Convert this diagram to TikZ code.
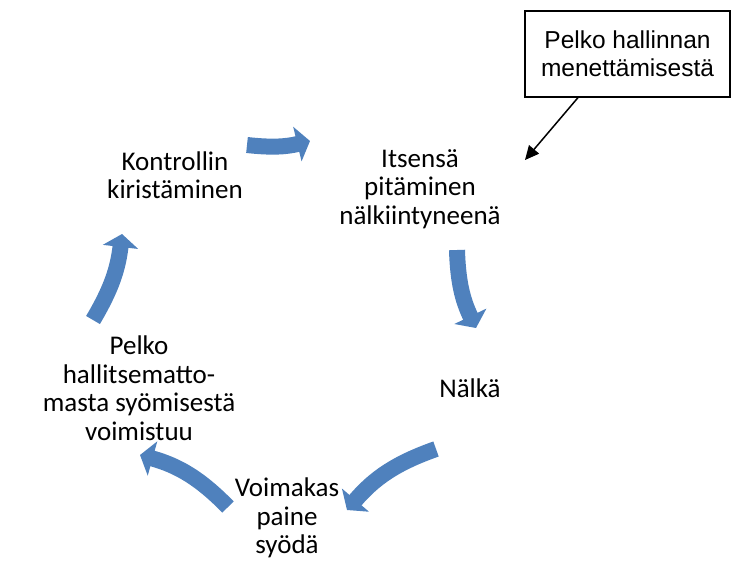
\documentclass[tikz,border=0pt]{standalone}
\usepackage{fontspec}
\setmainfont{Carlito}
\newfontfamily\arialf{Liberation Sans}
\usetikzlibrary{arrows.meta}
\definecolor{blu}{HTML}{4F81BD}
\begin{document}
\begin{tikzpicture}[x=1pt,y=-1pt,
  lbl/.style={align=center,font=\fontsize{27}{28.5}\selectfont,inner sep=0pt},
  cyc/.style={draw=blu,line width=16pt,-{Triangle[width=35pt,length=13pt]}},
  boxst/.style={draw,line width=1.2pt,align=center,font=\arialf\fontsize{24.5}{28}\selectfont,minimum width=205pt,minimum height=86pt,inner sep=0pt}]
\useasboundingbox (0,0) rectangle (731,562);
\node[lbl] (k) at (175,175) {Kontrollin\\kiristäminen};
\node[lbl] (i) at (420,189) {Itsensä\\pitäminen\\nälkiintyneenä};
\node[lbl] (n) at (470,388) {Nälkä};
\node[lbl] (v) at (287,518) {Voimakas\\paine\\syödä};
\node[lbl] (p) at (139,388) {Pelko\\hallitsematto-\\masta syömisestä\\voimistuu};
\node[boxst] (b) at (627.5,54) {Pelko hallinnan\\menettämisestä};
\coordinate (t) at (525,160);
\draw[line width=1.5pt,-{Triangle[width=13pt,length=14pt]}] ([xshift=-49.5pt]b.south) -- (t);
\coordinate (a1s) at (247,145); \coordinate (a1e) at (310,141);
\coordinate (a2s) at (457,250); \coordinate (a2e) at (476,328);
\coordinate (a3s) at (436,449); \coordinate (a3e) at (347,510);
\coordinate (a4s) at (228,507); \coordinate (a4e) at (140,455);
\coordinate (a5s) at (93,320); \coordinate (a5e) at (122,234);
\draw[cyc] (a1s) to[bend right=10] (a1e);
\draw[cyc] (a2s) to[bend right=12] (a2e);
\draw[cyc] (a3s) to[bend right=15] (a3e);
\draw[cyc] (a4s) to[bend right=15] (a4e);
\draw[cyc] (a5s) to[bend right=12] (a5e);
\end{tikzpicture}
\end{document}
